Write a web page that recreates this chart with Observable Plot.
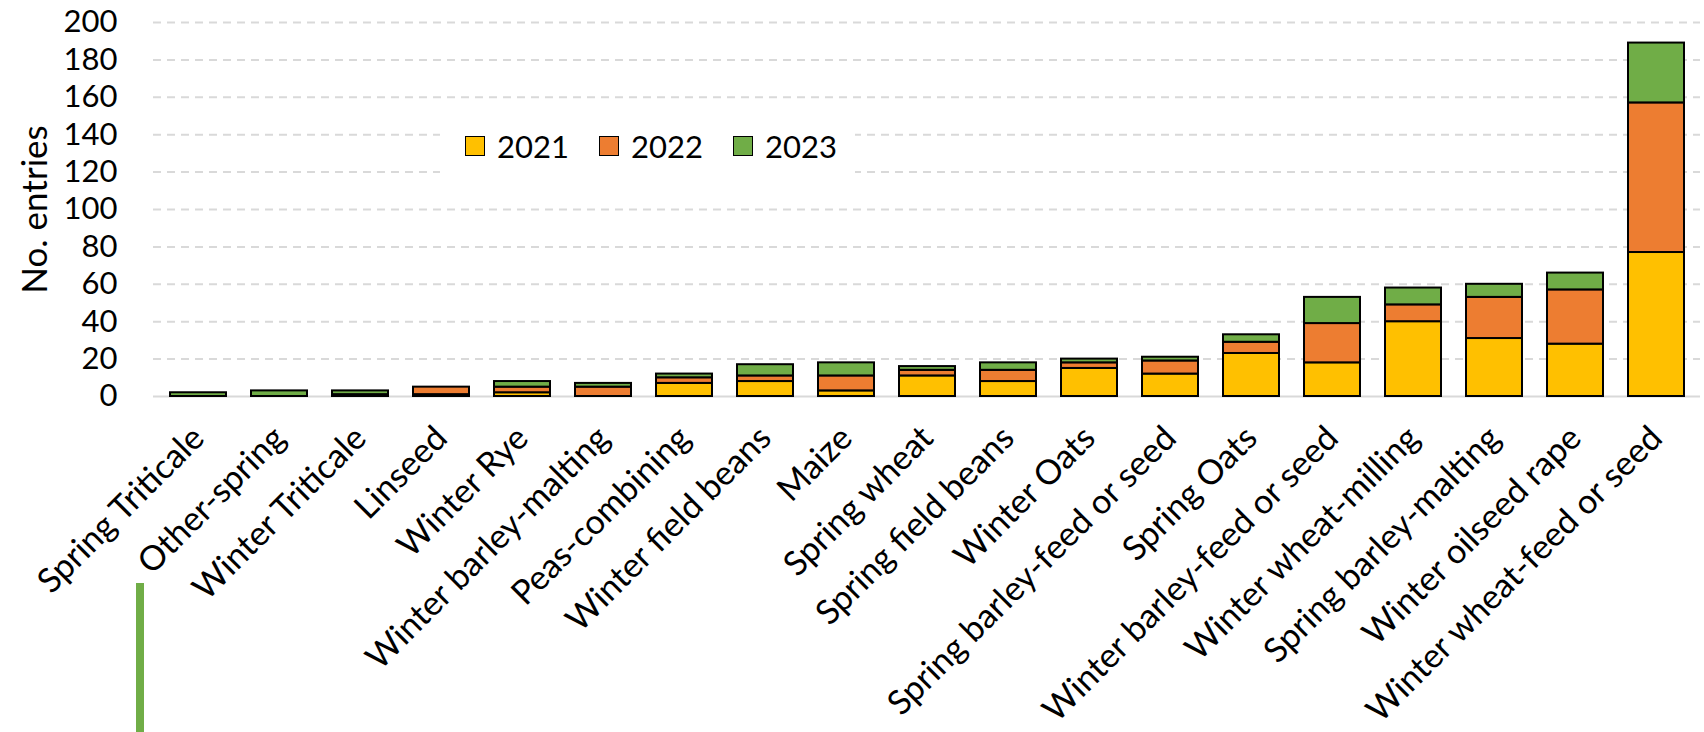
<!DOCTYPE html>
<html><head><meta charset="utf-8">
<script src="https://cdn.jsdelivr.net/npm/d3@7"></script>
<script src="https://cdn.jsdelivr.net/npm/@observablehq/plot@0.6"></script>
<style>
body{margin:0;background:#fff;}
#wrap{position:relative;width:1704px;height:732px;font-family:Lato,sans-serif;overflow:hidden;}
#legend{position:absolute;left:440px;top:114px;width:415px;height:64px;background:#fff;}
.item{position:absolute;top:0;height:64px;display:flex;align-items:center;font-size:31px;color:#000;}
.sw{width:18px;height:18px;border:1.5px solid #000;margin-right:12px;}
#artifact{position:absolute;left:136px;top:583px;width:8px;height:149px;background:#70AD47;}
</style></head>
<body>
<div id="wrap"><div id="artifact"></div></div>
<script>
const categories = ["Spring Triticale","Other-spring","Winter Triticale","Linseed","Winter Rye","Winter barley-malting","Peas-combining","Winter field beans","Maize","Spring wheat","Spring field beans","Winter Oats","Spring barley-feed or seed","Spring Oats","Winter barley-feed or seed","Winter wheat-milling","Spring barley-malting","Winter oilseed rape","Winter wheat-feed or seed"];
const y2021 = [0,0,1,1,2,0,7,8,3,11,8,15,12,23,18,40,31,28,77];
const y2022 = [0,0,0,4,3,5,3,3,8,3,6,3,7,6,21,9,22,29,80];
const y2023 = [2,3,2,0,3,2,2,6,7,2,4,2,2,4,14,9,7,9,32];
const years = ["2021","2022","2023"];
const colors = ["#FFC000","#ED7D31","#70AD47"];
const yTicks = [0,20,40,60,80,100,120,140,160,180,200];

const series = [y2021, y2022, y2023];
const data = categories.flatMap((c,i)=> years.map((yr,j)=>({crop:c, year:yr, value:series[j][i]})));

const chart = Plot.plot({
  width:1704, height:732, marginLeft:153, marginRight:4, marginTop:22, marginBottom:336,
  style:{fontFamily:"Lato, sans-serif", fontSize:"30px", color:"#000", background:"#fff"},
  x:{domain:categories, paddingInner:0.31, paddingOuter:0.155, label:null},
  y:{domain:[0,200], ticks:yTicks, label:null},
  color:{domain:years, range:colors},
  marks:[
    Plot.gridY(yTicks.filter(d=>d>0), {stroke:"#d9d9d9", strokeOpacity:1, strokeWidth:2, strokeDasharray:"8,6"}),
    Plot.ruleY([0], {stroke:"#d9d9d9", strokeWidth:2}),
    Plot.barY(data.filter(d=>d.value>0), {x:"crop", y:"value", fill:"year", stroke:"#000", strokeWidth:2}),
    Plot.axisY(yTicks, {tickSize:0, tickPadding:36, fontSize:31, label:null}),
    Plot.axisY({tickSize:0, ticks:[], label:"No. entries", fontSize:35, labelAnchor:"center", labelOffset:131, labelArrow:"none"}),
    Plot.axisX({tickSize:0, tickRotate:-45, tickPadding:36, fontSize:34, label:null})
  ]
});
const wrap = document.getElementById("wrap");
wrap.insertBefore(chart, wrap.firstChild);
chart.style.position = "absolute"; chart.style.left = "0"; chart.style.top = "0";

const legend = document.createElement("div");
legend.id = "legend";
years.forEach((yr,j)=>{
  const it = document.createElement("div");
  it.className = "item";
  it.style.left = (25 + j*134) + "px";
  const sw = document.createElement("div");
  sw.className = "sw"; sw.style.background = colors[j];
  const t = document.createElement("span"); t.textContent = yr;
  it.appendChild(sw); it.appendChild(t);
  legend.appendChild(it);
});
wrap.appendChild(legend);
</script>
</body></html>
